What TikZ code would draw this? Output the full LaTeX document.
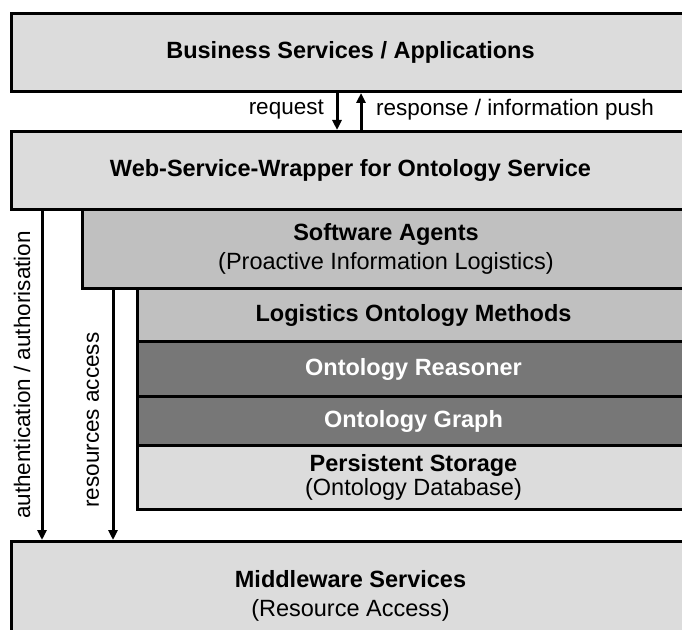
\documentclass[tikz,border=0pt]{standalone}
\usepackage{fontspec}
\setmainfont{Liberation Sans}
\usetikzlibrary{arrows.meta}
\definecolor{lightg}{RGB}{220,220,220}
\definecolor{midg}{RGB}{192,192,192}
\definecolor{darkg}{RGB}{119,119,119}
\begin{document}
\begin{tikzpicture}[x=1bp,y=-1bp,
  layer/.style={draw=black, line width=3bp, rectangle, anchor=north west, inner sep=0pt,
    align=center, font=\fontsize{23.5bp}{29bp}\selectfont},
  tight/.style={font=\fontsize{23.5bp}{24bp}\selectfont},
  lbl/.style={inner sep=0pt, font=\fontsize{22.5bp}{27bp}\selectfont},
  arr/.style={line width=3bp, -{Triangle[length=10bp,width=9bp]}}
]
\useasboundingbox (0,0) rectangle (682,630);
\clip (0,0) rectangle (682,630);
\fill[white] (0,0) rectangle (682,630);

\node[layer, fill=lightg, minimum width=678bp, minimum height=78bp] (biz) at (10,12)
  {\textbf{Business Services / Applications}};
\node[layer, fill=lightg, minimum width=678bp, minimum height=78bp] (web) at (10,130)
  {\textbf{Web-Service-Wrapper for Ontology Service}};
\node[layer, fill=midg, minimum width=607bp, minimum height=79bp] (agents) at (81,208)
  {\textbf{Software Agents}\\(Proactive Information Logistics)};
\node[layer, fill=midg, minimum width=552bp, minimum height=53bp] (methods) at (136,287)
  {\textbf{Logistics Ontology Methods}};
\node[layer, fill=darkg, text=white, minimum width=552bp, minimum height=55bp] (reasoner) at (136,340)
  {\textbf{Ontology Reasoner}};
\node[layer, fill=darkg, text=white, minimum width=552bp, minimum height=49bp] (graph) at (136,395)
  {\textbf{Ontology Graph}};
\node[layer, tight, fill=lightg, minimum width=552bp, minimum height=64bp] (storage) at (136,444)
  {\textbf{Persistent Storage}\\(Ontology Database)};
\node[layer, fill=lightg, minimum width=678bp, minimum height=108bp] (mw) at (10,540)
  {\textbf{Middleware Services}\\(Resource Access)};

\coordinate (reqx) at (337,0);
\coordinate (resx) at (361,0);
\coordinate (authx) at (42,0);
\coordinate (resacx) at (113,0);

\draw[arr] (biz.south -| reqx) -- (web.north -| reqx);
\draw[arr] (web.north -| resx) -- (biz.south -| resx);
\draw[arr] (web.south -| authx) -- (mw.north -| authx);
\draw[arr] (agents.south -| resacx) -- (mw.north -| resacx);

\node[lbl, anchor=east] (reqlbl) at (324,110) {request};
\node[lbl, anchor=west] (reslbl) at (376,110) {response / information push};
\node[lbl, rotate=90] (authlbl) at (22,375) {authentication / authorisation};
\node[lbl, rotate=90] (resaclbl) at (93,420) {resources access};
\end{tikzpicture}
\end{document}
